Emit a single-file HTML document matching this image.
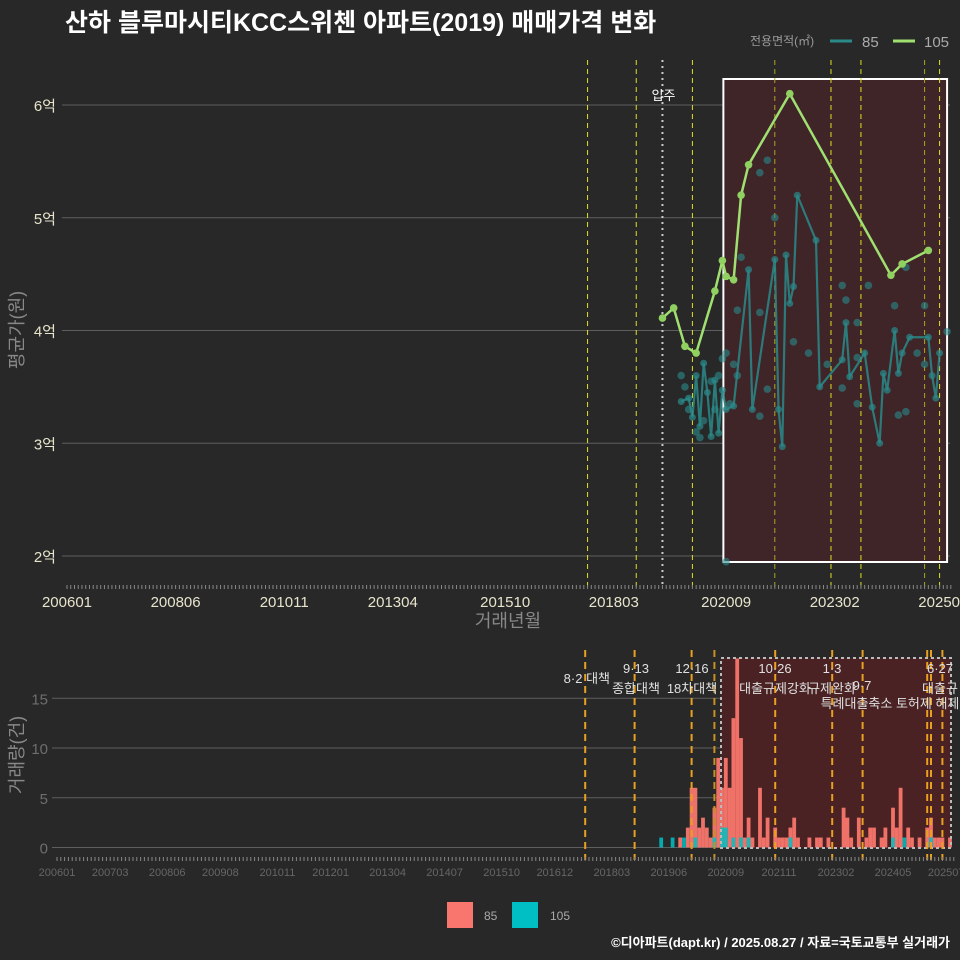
<!DOCTYPE html>
<html><head><meta charset="utf-8">
<style>
html,body{margin:0;padding:0;background:#282828;}
svg{display:block;font-family:"Liberation Sans","Noto Sans CJK KR",sans-serif;}
</style></head>
<body>
<svg id="chart" width="960" height="960" viewBox="0 0 960 960">
<rect x="0" y="0" width="960" height="960" fill="#282828"/>
<text x="65" y="31" fill="#ffffff" font-size="25" font-weight="bold">산하 블루마시티KCC스위첸 아파트(2019) 매매가격 변화</text>
<g>
<text x="750" y="45" fill="#9a9a9a" font-size="12">전용면적(㎡)</text>
<line x1="830" y1="41" x2="852" y2="41" stroke="#2a8a8a" stroke-width="3"/>
<text x="862" y="47" fill="#aaaaaa" font-size="15">85</text>
<line x1="893" y1="41" x2="915" y2="41" stroke="#a0e070" stroke-width="3"/>
<text x="924" y="47" fill="#aaaaaa" font-size="15">105</text>
</g>
<g id="topPanel"></g>
<g id="botPanel"></g>
<g>
<rect x="447" y="902" width="26" height="26" fill="#f8766d"/>
<text x="484" y="920" fill="#aaaaaa" font-size="12">85</text>
<rect x="512" y="902" width="26" height="26" fill="#00bfc4"/>
<text x="550" y="920" fill="#aaaaaa" font-size="12">105</text>
</g>
<text x="950" y="947" text-anchor="end" fill="#ffffff" font-size="13" font-weight="bold">©디아파트(dapt.kr) / 2025.08.27 / 자료=국토교통부 실거래가</text>
</svg>
<script>
// ---- data ----
const priceTicks = [2,3,4,5,6];
const priceTickLabels = ["2억","3억","4억","5억","6억"];
const topXLabels = ["200601","200806","201011","201304","201510","201803","202009","202302","202507"];
const botXLabels = ["200601","200703","200806","200908","201011","201201","201304","201407","201510","201612","201803","201906","202009","202111","202302","202405","202507"];
const volTicks = [0,5,10,15];
const topPolicyMonths = ["201708","201809","201912","202110","202301","202309","202502","202506"];
const botPolicyMonths = ["201708","201809","201912","202006","202110","202301","202309","202502","202503","202506"];
const moveInMonth = "201904";
const shadeStart = "202008";
const shadeEnd = "202508";
const s105Months = ["201904","201907","201910","202001","202006","202008","202009","202011","202101","202103","202202","202405","202408","202503"];
const s105Values = [4.11,4.20,3.86,3.80,4.35,4.62,4.48,4.45,5.20,5.47,6.10,4.49,4.59,4.71];
const s85Months = ["201909","201911","201912","202001","202002","202003","202004","202005","202006","202007","202008","202009","202011","202103","202104","202110","202111","202112","202201","202202","202203","202204","202209","202210","202304","202305","202306","202310","202312","202402","202403","202404","202406","202407","202408","202410","202503","202504","202505","202506"];
const s85Values = [3.37,3.40,3.23,3.60,3.15,3.71,3.45,3.06,3.56,3.09,3.47,3.30,3.33,4.54,3.30,4.63,3.30,2.97,4.67,4.24,4.39,5.20,4.80,3.50,3.74,4.07,3.59,3.80,3.32,3.00,3.62,3.47,4.00,3.62,3.80,3.94,3.94,3.60,3.40,3.80];
const dealMonths = ["202108","202106","202110","202101","202012","202203","202207","202212","202304","202311","202305","202406","202308","202308","202412","202502","202409","202407","202409","202308","202304","202502","202508","202009","201910","201911","202001","202003","202005","202007","202008","202009","202010","202011","202012","201909","202002","202006","202106","202106","202108"];
const dealValues = [5.51,5.40,5.00,4.65,4.18,3.90,3.80,3.70,4.40,4.40,4.27,4.22,4.07,3.76,3.80,4.22,4.56,3.25,3.28,3.35,3.49,3.70,3.99,1.95,3.50,3.30,3.10,3.20,3.55,3.60,3.75,3.80,3.35,3.70,3.60,3.60,3.05,3.30,4.16,3.24,3.48];
const vol85Months = ["201909","201911","201912","202001","202002","202003","202004","202005","202006","202007","202008","202009","202010","202011","202012","202101","202102","202103","202104","202106","202107","202108","202110","202111","202112","202201","202202","202203","202204","202207","202209","202210","202212","202304","202305","202306","202308","202310","202311","202312","202402","202403","202405","202406","202407","202409","202410","202412","202502","202503","202504","202505","202506","202508"];
const vol85Values = [1,2,6,6,2,3,2,1,4,9,6,9,6,13,19,11,1,3,1,6,1,3,2,1,1,1,2,3,1,1,1,1,1,4,3,1,3,1,2,2,1,2,4,2,6,2,1,1,2,3,1,1,1,1];
const vol105Months = ["201904","201907","201910","202001","202006","202008","202009","202011","202101","202103","202202","202405","202408","202503"];
const vol105Values = [1,1,1,1,1,2,2,1,1,1,1,1,1,1];

// ---- helpers ----
const NS="http://www.w3.org/2000/svg";
function mi(s){return (parseInt(s.slice(0,4))-2006)*12+parseInt(s.slice(4,6))-1;}
function el(tag,attrs,parent){const e=document.createElementNS(NS,tag);for(const k in attrs)e.setAttribute(k,attrs[k]);parent.appendChild(e);return e;}
const xT=m=>67+m*3.745;
const yT=v=>556-(v-2)*112.75;
const xB=m=>57+m*3.80;
const yB=v=>847.5-v*9.95;
const topG=document.getElementById('topPanel'), botG=document.getElementById('botPanel');

// ---- top panel ----
priceTicks.forEach((v,i)=>{
  const g=el('line',{x1:62,x2:950,y1:yT(v),y2:yT(v),stroke:'#5e5e5e','stroke-width':1},topG);
  
  
  const t=el('text',{x:56,y:yT(v)+6,'text-anchor':'end',fill:'#e8e4cc','font-size':15},topG);
  t.textContent=priceTickLabels[i];
  
  
});
{
  const r=el('rect',{x:xT(mi(shadeStart))+1,y:79,width:xT(mi(shadeEnd))-xT(mi(shadeStart))-1,height:483,fill:'#3f2428',stroke:'#ffffff','stroke-width':2},topG);
  
  
}
topPolicyMonths.forEach((mm,i)=>{
  const x=xT(mi(mm));
  const l=el('line',{x1:x,x2:x,y1:60,y2:588,stroke:(i==3||i==6)?'#a8a820':'#e0e020','stroke-width':1,'stroke-dasharray':'5,4'},topG);
  
  
});
{
  const x=xT(mi(moveInMonth));
  const l=el('line',{x1:x,x2:x,y1:60,y2:588,stroke:'#cccccc','stroke-width':2,'stroke-dasharray':'2,4'},topG);
  
  
  const t=el('text',{x:x+1,y:100,'text-anchor':'middle',fill:'#ffffff','font-size':13},topG);
  t.textContent='입주';
  
  
}
for(let m=0;m<=236;m++){const x=xT(m);if(x>958)break;
  const t=el('line',{x1:x,x2:x,y1:585,y2:589,stroke:'#888','stroke-width':1},topG);
  
  }
topXLabels.forEach(s=>{
  const t=el('text',{x:xT(mi(s)),y:607,'text-anchor':'middle',fill:'#e8e4cc','font-size':15},topG);
  t.textContent=s;
  
  
});
{
  const t=el('text',{x:508,y:627,'text-anchor':'middle',fill:'#888','font-size':18},topG);
  t.textContent='거래년월';
  
  
  const y=el('text',{x:0,y:0,'text-anchor':'middle',fill:'#888','font-size':18,transform:'translate(23,330) rotate(-90)'},topG);
  y.textContent='평균가(원)';
  
  
}
dealMonths.forEach((mm,i)=>{
  const c=el('circle',{cx:xT(mi(mm)),cy:yT(dealValues[i]),r:3.8,fill:'#2a8a8a','fill-opacity':0.6},topG);
  
  
});
{
  const p=el('polyline',{points:s85Months.map((m,i)=>xT(mi(m))+','+yT(s85Values[i])).join(' '),fill:'none',stroke:'#2a8a8a','stroke-width':2.2,'stroke-opacity':0.85},topG);
  
  
  s85Months.forEach((m,i)=>{const c=el('circle',{cx:xT(mi(m)),cy:yT(s85Values[i]),r:3.5,fill:'#2a8a8a','fill-opacity':0.7},topG);
    
    });
  const q=el('polyline',{points:s105Months.map((m,i)=>xT(mi(m))+','+yT(s105Values[i])).join(' '),fill:'none',stroke:'#a0e070','stroke-width':2.5},topG);
  
  
  s105Months.forEach((m,i)=>{const c=el('circle',{cx:xT(mi(m)),cy:yT(s105Values[i]),r:3.8,fill:'#90d060'},topG);
    
    });
}

// ---- bottom panel ----
volTicks.forEach(v=>{
  const g=el('line',{x1:52,x2:950,y1:yB(v),y2:yB(v),stroke:'#5e5e5e','stroke-width':1},botG);
  
  
  const t=el('text',{x:48,y:yB(v)+6,'text-anchor':'end',fill:'#6e6e6e','font-size':15},botG);
  t.textContent=v;
  
  
});
{
  const x0=xB(mi(shadeStart))-1, x1=xB(mi(shadeEnd))+1;
  const r=el('rect',{x:x0,y:658,width:x1-x0,height:190,fill:'#4a2224'},botG);
  
  
}
vol85Months.forEach((mm,i)=>{
  const x=xB(mi(mm));
  const b=el('rect',{x:x-1.9,y:yB(vol85Values[i]),width:3.8,height:yB(0)-yB(vol85Values[i]),fill:'#f8766d','fill-opacity':0.95},botG);
  
  
});
vol105Months.forEach((mm,i)=>{
  const x=xB(mi(mm));
  const b=el('rect',{x:x-1.9,y:yB(vol105Values[i]),width:3.8,height:yB(0)-yB(vol105Values[i]),fill:'#00bfc4','fill-opacity':0.85},botG);
  
  
});
{
  const x0=xB(mi(shadeStart))-1, x1=xB(mi(shadeEnd))+1;
  const r=el('rect',{x:x0,y:658,width:x1-x0,height:190,fill:'none',stroke:'#bbbbbb','stroke-width':2,'stroke-dasharray':'3,3'},botG);
  
  
}
botPolicyMonths.forEach((mm,i)=>{
  const x=xB(mi(mm));
  const l=el('line',{x1:x,x2:x,y1:650,y2:860,stroke:i==3?'#c89020':'#e8a020','stroke-width':2,'stroke-dasharray':'7,5'},botG);
  
  
});
const ann=[["8·2 대책",610,683,"end"],["9·13",636,673,"middle"],["종합대책",636,693,"middle"],["12·16",692,673,"middle"],["18차대책",692,693,"middle"],["10·26",775,673,"middle"],["대출규제강화",775,693,"middle"],["1·3",832,673,"middle"],["규제완화",832,693,"middle"],["9·7",862,690,"middle"],["특례대출축소 토허제 해제",890,708,"middle"],["6·27",940,673,"middle"],["대출규",940,693,"middle"]];
ann.forEach(a=>{
  const t=el('text',{x:a[1],y:a[2],'text-anchor':a[3],fill:'#e0e0e0','font-size':13},botG);
  t.textContent=a[0];
  
  
});
for(let m=0;m<=236;m++){const x=xB(m);if(x>958)break;
  const t=el('line',{x1:x,x2:x,y1:857,y2:861,stroke:'#888','stroke-width':1},botG);
  
  }
botXLabels.forEach(s=>{
  const t=el('text',{x:xB(mi(s)),y:876,'text-anchor':'middle',fill:'#666','font-size':11},botG);
  t.textContent=s;
  
  
});
{
  const y=el('text',{x:0,y:0,'text-anchor':'middle',fill:'#888','font-size':18,transform:'translate(23,755) rotate(-90)'},botG);
  y.textContent='거래량(건)';
  
  
}
</script>
</body></html>
